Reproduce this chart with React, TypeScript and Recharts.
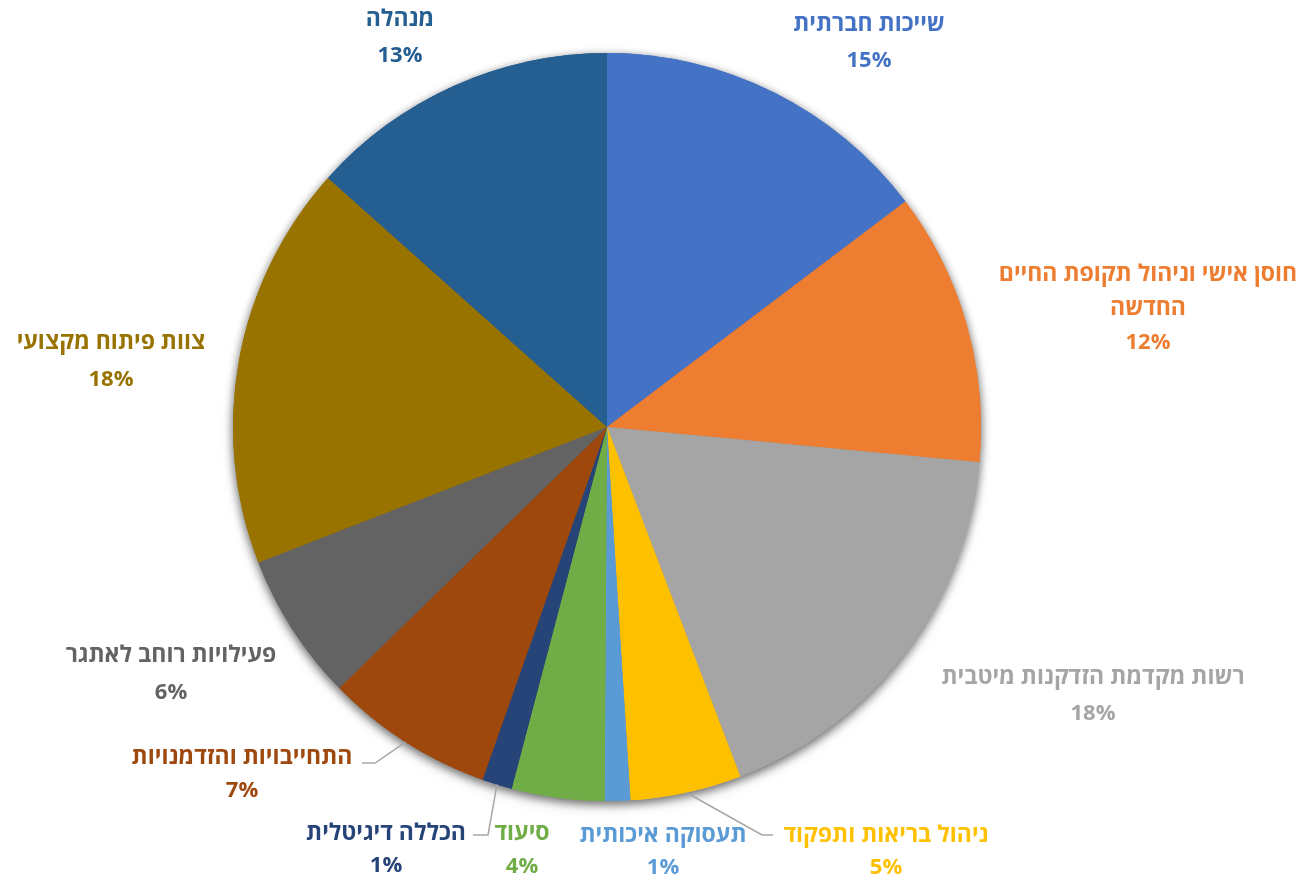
import { PieChart, Pie, Cell } from 'recharts';

const categories = [
    'שייכות חברתית',
    'חוסן אישי וניהול תקופת החיים החדשה',
    'רשות מקדמת הזדקנות מיטבית',
    'ניהול בריאות ותפקוד',
    'תעסוקה איכותית',
    'סיעוד',
    'הכללה דיגיטלית',
    'התחייבויות והזדמנויות',
    'פעילויות רוחב לאתגר',
    'צוות פיתוח מקצועי',
    'מנהלה',
];

// share of budget, percent
const shares = [14.7, 11.8, 17.7, 4.8, 1.1, 4.0, 1.3, 7.3, 6.4, 17.5, 13.4];

const colors = [
    '#4472C4', '#ED7D31', '#A5A5A5', '#FFC000', '#5B9BD5', '#70AD47',
    '#264478', '#9E480E', '#636363', '#997300', '#255E91',
];

const data = categories.map((name, i) => ({ name, value: shares[i] }));

// label placement, relative to the pie centre (centre of first text line)
const labelLayout: { dx: number; dy: number; gap?: number; lines?: string[]; leader?: number[][] }[] = [
    { dx: 262, dy: -405 },
    { dx: 541, dy: -155, gap: 34, lines: ['חוסן אישי וניהול תקופת החיים', 'החדשה'] },
    { dx: 486, dy: 248 },
    { dx: 279, dy: 406, gap: 32, leader: [[155, 408], [166, 408]] },
    { dx: 56, dy: 406, gap: 32 },
    { dx: -85, dy: 404, gap: 33 },
    { dx: -221, dy: 404, gap: 32, leader: [[-119, 408], [-134, 408]] },
    { dx: -365, dy: 328, gap: 33, leader: [[-232, 336], [-245, 336]] },
    { dx: -436, dy: 226, gap: 37 },
    { dx: -496, dy: -87, gap: 37 },
    { dx: -207, dy: -410 },
];

const FONT = "'Open Sans', 'DejaVu Sans', sans-serif";
const RADIAN = Math.PI / 180;

function renderLabel(props: any) {
    const { cx, cy, midAngle, outerRadius, index, percent } = props;
    const layout = labelLayout[index];
    const color = colors[index];
    const lines = layout.lines ?? [categories[index]];
    const gap = layout.gap ?? 36;
    const x = cx + layout.dx;
    const y = cy + layout.dy;
    let leader = null;
    if (layout.leader) {
        const ex = cx + outerRadius * Math.cos(-midAngle * RADIAN);
        const ey = cy + outerRadius * Math.sin(-midAngle * RADIAN);
        const pts = [[ex, ey], ...layout.leader.map(([px, py]) => [cx + px, cy + py])];
        leader = (
            <polyline
                points={pts.map((p) => p.join(',')).join(' ')}
                fill="none"
                stroke="#A6A6A6"
                strokeWidth={1.5}
            />
        );
    }
    return (
        <g key={`lbl-${index}`}>
            {leader}
            {lines.map((t, i) => (
                <text
                    key={i}
                    x={x}
                    y={y + i * gap}
                    fill={color}
                    textAnchor="middle"
                    dominantBaseline="central"
                    direction="rtl"
                    fontFamily={FONT}
                    fontWeight={700}
                    fontSize={23}
                >
                    {t}
                </text>
            ))}
            <text
                x={x}
                y={y + lines.length * gap}
                fill={color}
                textAnchor="middle"
                dominantBaseline="central"
                direction="ltr"
                fontFamily={FONT}
                fontWeight={700}
                fontSize={22}
            >
                {`${Math.round(percent * 100)}%`}
            </text>
        </g>
    );
}

export default function App() {
    return (
        <div style={{ position: 'absolute', left: 0, top: 0, width: 1311, height: 882, background: '#fff' }}>
            <style>{`.pie-shadow { filter: drop-shadow(0px 3px 5px rgba(0,0,0,0.35)); }`}</style>
            <PieChart width={1311} height={882} margin={{ top: 0, right: 0, bottom: 0, left: 0 }}>
                <Pie
                    className="pie-shadow"
                    data={data}
                    dataKey="value"
                    nameKey="name"
                    cx={607}
                    cy={427}
                    outerRadius={374}
                    startAngle={90}
                    endAngle={-270}
                    stroke="none"
                    label={false}
                    labelLine={false}
                    isAnimationActive={false}
                >
                    {data.map((_, i) => (
                        <Cell key={i} fill={colors[i]} />
                    ))}
                </Pie>
                <Pie
                    data={data}
                    dataKey="value"
                    nameKey="name"
                    cx={607}
                    cy={427}
                    outerRadius={374}
                    startAngle={90}
                    endAngle={-270}
                    stroke="none"
                    label={renderLabel}
                    labelLine={false}
                    isAnimationActive={false}
                >
                    {data.map((_, i) => (
                        <Cell key={i} fill={colors[i]} />
                    ))}
                </Pie>
            </PieChart>
        </div>
    );
}
